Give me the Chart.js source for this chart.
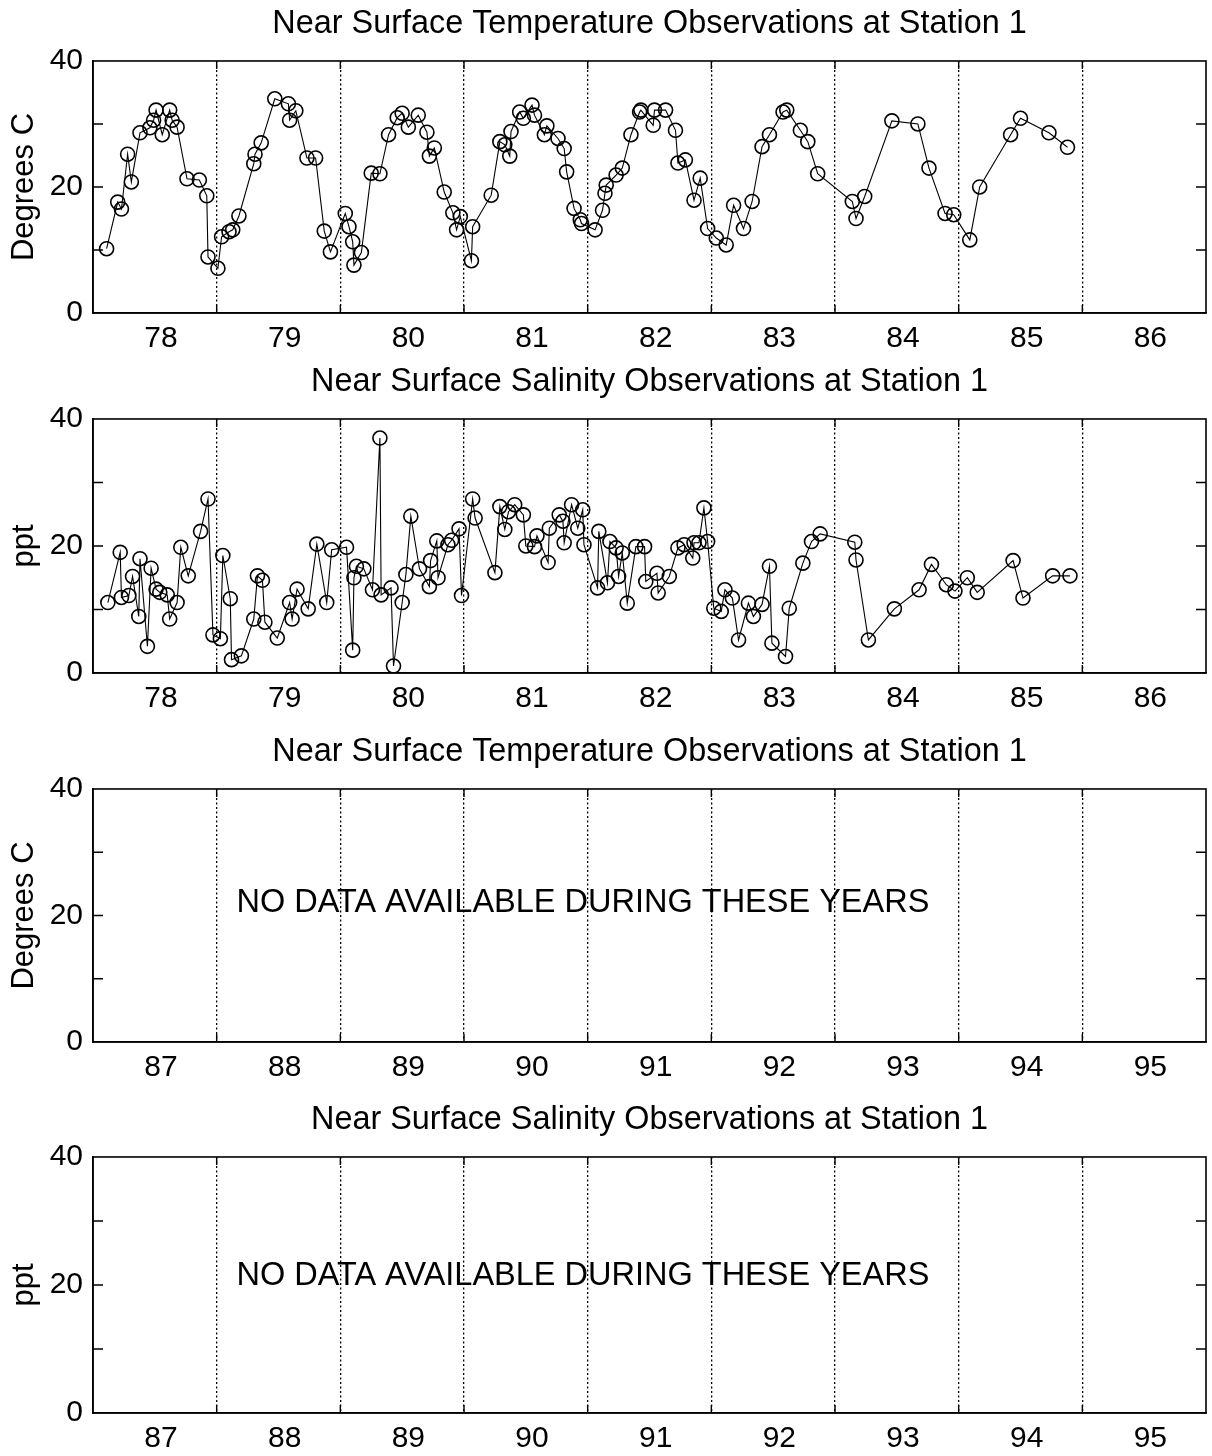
<!DOCTYPE html>
<html>
<head>
<meta charset="utf-8">
<script src="https://cdn.jsdelivr.net/npm/chart.js@4.4.0/dist/chart.umd.min.js"></script>
<style>
  html, body { margin: 0; padding: 0; background: #fff; }
  body { width: 1212px; height: 1456px; position: relative; overflow: hidden; }
  canvas { position: absolute; left: 0; }
</style>
</head>
<body>
<canvas id="p1"></canvas>
<canvas id="p2"></canvas>
<canvas id="p3"></canvas>
<canvas id="p4"></canvas>
<script>
'use strict';

// years 78-86
let labelsA = ['78','79','80','81','82','83','84','85','86'];
// years 87-95
let labelsB = ['87','88','89','90','91','92','93','94','95'];
let yTicks = [0, 10, 20, 30, 40];
let yLabelled = [0, 20, 40];

let tempYears = [78.11,78.20,78.23,78.28,78.31,78.38,78.46,78.49,78.51,78.56,78.62,78.64,78.68,78.76,78.86,78.92,78.93,79.01,
  79.04,79.10,79.13,79.18,79.30,79.31,79.36,79.47,79.58,79.59,79.64,79.73,79.80,79.87,79.92,
  80.04,80.07,80.10,80.11,80.17,80.25,80.32,80.39,80.46,80.50,80.55,80.63,80.70,80.72,80.76,80.84,80.91,80.94,80.97,
  81.06,81.07,81.22,81.29,81.33,81.37,81.38,81.45,81.48,81.55,81.57,81.65,81.67,81.76,81.81,81.83,81.89,81.94,81.95,
  82.06,82.12,82.14,82.15,82.23,82.28,82.35,82.42,82.43,82.53,82.54,82.63,82.71,82.73,82.79,82.86,82.91,82.97,
  83.04,83.12,83.18,83.26,83.33,83.41,83.47,83.58,83.61,83.72,83.78,83.86,
  84.14,84.17,84.24,84.46,84.67,84.76,84.89,84.96,85.09,85.17,85.42,85.50,85.73,85.88];
let tempValues = [10.2,17.6,16.5,25.2,20.8,28.6,29.4,30.6,32.2,28.3,32.2,30.6,29.5,21.3,21.1,18.6,8.9,7.1,
  12.1,12.9,13.2,15.4,23.7,25.2,27.0,34.0,33.2,30.6,32.1,24.6,24.6,13.0,9.7,
  15.8,13.7,11.3,7.6,9.6,22.2,22.1,28.3,31.0,31.7,29.5,31.4,28.7,24.9,26.2,19.2,15.9,13.2,15.3,
  8.3,13.7,18.7,27.2,26.7,24.9,28.8,31.9,30.9,33.0,31.4,28.3,29.7,27.7,26.1,22.4,16.6,14.8,14.2,
  13.2,16.3,19.0,20.3,21.9,23.0,28.3,31.9,32.2,29.8,32.2,32.2,29.0,23.8,24.3,17.9,21.4,13.4,
  11.9,10.8,17.1,13.4,17.7,26.4,28.3,31.9,32.2,29.0,27.2,22.1,
  17.7,15.0,18.5,30.5,30.0,23.0,15.8,15.6,11.6,20.0,28.3,30.9,28.6,26.3];

let salYears = [78.12,78.22,78.23,78.29,78.32,78.37,78.38,78.44,78.47,78.51,78.54,78.60,78.62,78.68,78.71,78.77,78.87,78.93,78.97,
  79.03,79.05,79.11,79.12,79.20,79.30,79.33,79.37,79.39,79.49,79.59,79.61,79.65,79.74,79.81,79.89,79.93,
  80.05,80.10,80.11,80.13,80.19,80.26,80.32,80.33,80.41,80.43,80.50,80.53,80.57,80.64,80.72,80.73,80.78,80.79,80.87,80.90,80.96,80.98,
  81.07,81.09,81.25,81.29,81.33,81.36,81.41,81.48,81.50,81.57,81.59,81.68,81.69,81.77,81.80,81.81,81.87,81.92,81.96,81.97,
  82.08,82.09,82.16,82.18,82.23,82.25,82.28,82.32,82.39,82.46,82.47,82.56,82.57,82.66,82.73,82.78,82.85,82.86,82.90,82.94,82.97,
  83.02,83.08,83.11,83.17,83.22,83.30,83.34,83.41,83.47,83.49,83.60,83.63,83.74,83.81,83.88,
  84.16,84.17,84.27,84.48,84.68,84.78,84.90,84.97,85.07,85.15,85.44,85.52,85.76,85.90];
let salValues = [11.1,19.0,11.9,12.2,15.2,8.9,18.0,4.2,16.5,13.2,12.7,12.3,8.5,11.1,19.8,15.3,22.3,27.4,6.0,
  5.4,18.5,11.7,2.1,2.7,8.5,15.3,14.6,8.0,5.5,11.1,8.5,13.2,10.1,20.3,11.1,19.4,
  19.8,3.6,15.0,16.8,16.4,13.1,37.0,12.3,13.4,1.1,11.1,15.5,24.7,16.4,13.6,17.7,20.8,15.0,20.2,20.9,22.7,12.2,
  27.4,24.4,15.8,26.2,22.6,25.4,26.5,24.9,20.0,19.9,21.6,17.4,22.8,24.9,23.9,20.5,26.5,22.8,25.7,20.2,
  13.4,22.3,14.2,20.7,19.7,15.2,18.9,11.0,19.9,19.9,14.4,15.7,12.6,15.2,19.7,20.2,18.1,20.5,20.5,26.0,20.7,
  10.2,9.7,13.1,11.8,5.2,11.0,8.9,10.8,16.8,4.7,2.6,10.2,17.3,20.7,21.9,
  20.6,17.8,5.2,10.1,13.1,17.1,13.9,12.9,15.0,12.7,17.7,11.8,15.3,15.3];

let noData = 'NO DATA AVAILABLE DURING THESE YEARS';

Chart.defaults.font.family = '"Liberation Sans", Arial, Helvetica, sans-serif';
Chart.defaults.color = '#000';

// box, inward ticks and the "no data" note, like the matlab axes
let framePlugin = {
  id: 'frame',
  afterDraw(chart, args, opts) {
    let ctx = chart.ctx;
    let a = chart.chartArea;
    let xs = chart.scales.x;
    let ys = chart.scales.y;
    ctx.save();
    ctx.strokeStyle = '#000';
    ctx.lineWidth = 1.6;
    ctx.strokeRect(a.left, a.top, a.right - a.left, a.bottom - a.top);
    ctx.lineWidth = 1.4;
    ctx.beginPath();
    for (let v of [10, 20, 30]) {
      let py = ys.getPixelForValue(v);
      ctx.moveTo(a.left, py); ctx.lineTo(a.left + 10, py);
      ctx.moveTo(a.right, py); ctx.lineTo(a.right - 10, py);
    }
    for (let i = 1; i < 9; i++) {
      let px = xs.getPixelForValue(xs.min + i);
      ctx.moveTo(px, a.bottom); ctx.lineTo(px, a.bottom - 8);
      ctx.moveTo(px, a.top); ctx.lineTo(px, a.top + 8);
    }
    ctx.stroke();
    if (opts.note) {
      ctx.fillStyle = '#000';
      ctx.font = '32.5px "Liberation Sans", Arial, sans-serif';
      ctx.textBaseline = 'middle';
      ctx.textAlign = 'left';
      ctx.fillText(opts.note, xs.getPixelForValue(opts.noteX), ys.getPixelForValue(opts.noteY));
    }
    ctx.restore();
  }
};

function makePanel(id, top, plotH, title, yTitle, xMin, labels, xs, ys, note, noteY) {
  let el = document.getElementById(id);
  el.width = 1212;
  el.height = 56 + plotH + 46;
  el.style.top = top + 'px';
  let pts = [];
  for (let i = 0; i < xs.length; i++) pts.push({x: xs[i], y: ys[i]});
  return new Chart(el.getContext('2d'), {
    type: 'line',
    data: {
      datasets: [{
        data: pts,
        xAxisID: 'x',
        borderColor: '#000',
        borderWidth: 1.1,
        pointRadius: 7,
        pointBorderWidth: 1.6,
        pointBorderColor: '#000',
        pointBackgroundColor: 'rgba(0,0,0,0)',
        tension: 0
      }]
    },
    options: {
      responsive: false,
      animation: false,
      layout: { autoPadding: false, padding: { left: 0, right: 6, top: 0, bottom: 0 } },
      plugins: {
        legend: { display: false },
        tooltip: { enabled: false },
        title: {
          display: true, text: title, fullSize: false,
          font: { size: 32.4, weight: 'normal' }, color: '#000',
          padding: { top: 0, bottom: 17.1 }
        },
        frame: { note: note, noteX: xMin + 1.16, noteY: noteY }
      },
      scales: {
        x: {
          type: 'linear', min: xMin, max: xMin + 9,
          afterBuildTicks: s => { s.ticks = labels.map((l, i) => ({ value: xMin + i + 0.55 })); },
          afterFit: s => { s.height = 46; },
          ticks: {
            callback: (v, i) => labels[i],
            font: { size: 30 }, color: '#000', padding: 8,
            maxRotation: 0, autoSkip: false
          },
          grid: { display: false, drawTicks: false },
          border: { display: true, color: '#000', width: 1.6 }
        },
        // dotted year boundaries
        xg: {
          type: 'linear', position: 'bottom', min: xMin, max: xMin + 9,
          afterBuildTicks: s => { s.ticks = labels.slice(1).map((l, i) => ({ value: xMin + i + 1 })); },
          afterFit: s => { s.height = 0; },
          ticks: { display: false },
          grid: { color: '#000', lineWidth: 1.3, drawTicks: false },
          border: { display: false, dash: [2, 2.5] }
        },
        y: {
          min: 0, max: 40,
          afterBuildTicks: s => { s.ticks = yTicks.map(v => ({ value: v })); },
          afterFit: s => { s.width = 93; },
          ticks: {
            callback: v => yLabelled.includes(v) ? String(v) : '',
            font: { size: 30 }, color: '#000', padding: 10
          },
          grid: { display: false, drawTicks: false },
          border: { display: true, color: '#000', width: 1.6 },
          title: { display: true, text: yTitle, font: { size: 31 }, color: '#000', padding: 6 }
        }
      }
    },
    plugins: [framePlugin]
  });
}

makePanel('p1', 5, 252, 'Near Surface Temperature Observations at Station 1', 'Degrees C', 78, labelsA, tempYears, tempValues, null, 0);
makePanel('p2', 363, 254, 'Near Surface Salinity Observations at Station 1', 'ppt', 78, labelsA, salYears, salValues, null, 0);
makePanel('p3', 733, 253, 'Near Surface Temperature Observations at Station 1', 'Degrees C', 87, labelsB, [], [], noData, 22);
makePanel('p4', 1101, 256, 'Near Surface Salinity Observations at Station 1', 'ppt', 87, labelsB, [], [], noData, 21.4);
</script>
</body>
</html>
